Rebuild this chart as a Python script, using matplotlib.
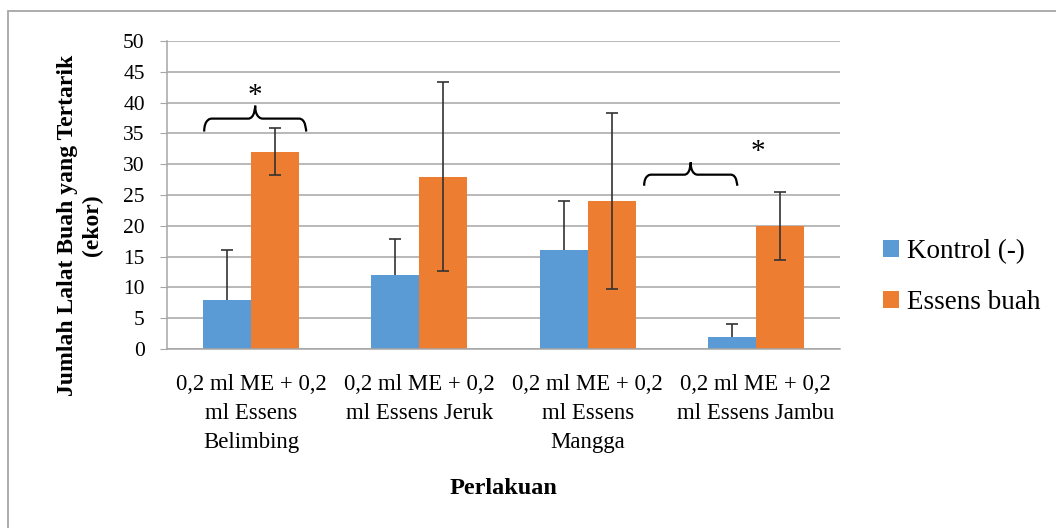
import matplotlib.pyplot as plt
import numpy as np
from matplotlib.path import Path
from matplotlib.patches import PathPatch, Rectangle

plt.rcParams['font.family'] = ['Liberation Serif', 'DejaVu Serif']

# data
categories = ['0,2 ml ME + 0,2\nml Essens\nBelimbing',
              '0,2 ml ME + 0,2\nml Essens Jeruk',
              '0,2 ml ME + 0,2\nml Essens\nMangga',
              '0,2 ml ME + 0,2\nml Essens Jambu']
kontrol = [8, 12, 16, 2]
kontrol_err = [8, 5.8, 8.1, 2]
essens = [32, 28, 24, 20]
essens_err = [3.8, 15.3, 14.3, 5.5]

blue = '#5B9BD5'
orange = '#ED7D31'
grid_c = '#A6A6A6'
err_c = '#333333'

W, H = 1056, 528
x = np.arange(len(categories))
width = 0.286

fig = plt.figure(figsize=(W / 100, H / 100), dpi=100)
ax = fig.add_axes([167 / W, 1 - 349 / H, (840 - 167) / W, (349 - 41) / H])

ax.bar(x - width/2, kontrol, width, color=blue, label='Kontrol (-)', zorder=2)
ax.bar(x + width/2, essens, width, color=orange, label='Essens buah', zorder=2)
eb = ax.errorbar(x - width/2, kontrol, yerr=[np.zeros(len(kontrol)), kontrol_err],
                 fmt='none', ecolor=err_c, elinewidth=1.2, capsize=4.3, capthick=1.2, zorder=3)
eb[1][0].set_visible(False)  # plus-only error bars for the control
ax.errorbar(x + width/2, essens, yerr=essens_err,
            fmt='none', ecolor=err_c, elinewidth=1.2, capsize=4.3, capthick=1.2, zorder=3)

ax.set_xlim(-0.5, 3.5)
ax.set_ylim(0, 50)
ax.set_yticks(range(0, 51, 5))
ax.yaxis.grid(True, color=grid_c, linewidth=1.1, zorder=0)
ax.set_axisbelow(True)
for s in ['top', 'right']:
    ax.spines[s].set_visible(False)
for s in ['left', 'bottom']:
    ax.spines[s].set_color(grid_c)
    ax.spines[s].set_linewidth(1.1)
ax.tick_params(axis='y', length=5, color=grid_c, labelsize=15.5, pad=11)
ax.tick_params(axis='x', length=0, labelsize=16.4, pad=18)
ax.set_xticks(x)
ax.set_xticklabels(categories, linespacing=1.5)

fig.text(80 / W, 1 - 225 / H, 'Jumlah Lalat Buah yang Tertarik\n(ekor)', fontsize=17,
         fontweight='bold', linespacing=1.2, rotation=90, ha='center', va='center')
fig.text(503 / W, 1 - 488 / H, 'Perlakuan', fontsize=17.5, fontweight='bold',
         ha='center', va='center')


def brace(x0, x1, yb, ym, yt):
    xm = (x0 + x1) / 2
    r = (x1 - x0) * 0.07
    verts = [(x0, yb), (x0, ym), (x0 + r, ym), (x0 + r, ym),
             (xm - r, ym),
             (xm, ym), (xm, yt), (xm, yt),
             (xm, ym), (xm + r, ym), (xm + r, ym),
             (x1 - r, ym),
             (x1, ym), (x1, yb), (x1, yb)]
    codes = [Path.MOVETO, Path.CURVE4, Path.CURVE4, Path.CURVE4,
             Path.LINETO,
             Path.CURVE4, Path.CURVE4, Path.CURVE4,
             Path.CURVE4, Path.CURVE4, Path.CURVE4,
             Path.LINETO,
             Path.CURVE4, Path.CURVE4, Path.CURVE4]
    ax.add_patch(PathPatch(Path(verts, codes), fill=False, lw=1.6,
                           edgecolor='black', zorder=4, clip_on=False))


brace(-0.279, 0.327, 35.3, 37.4, 39.5)
ax.text(0.024, 41.0, '*', fontsize=21, ha='center', va='center', clip_on=False)
brace(2.336, 2.889, 26.5, 28.3, 30.3)
ax.text(3.013, 32.0, '*', fontsize=21, ha='center', va='center')

ax.legend(loc='upper left', bbox_to_anchor=(883 / W, 1 - 239 / H),
          bbox_transform=fig.transFigure, frameon=False, fontsize=19.5,
          borderpad=0, borderaxespad=0,
          handlelength=0.6, handleheight=0.6, handletextpad=0.3,
          labelspacing=0.95)

# outer chart border (only top and left edges fall inside the picture)
fig.patches.append(Rectangle((8 / W, -0.1), 1.2, 1.1 - 11.5 / H, transform=fig.transFigure,
                             fill=False, edgecolor='#A6A6A6', linewidth=1.3))

fig.savefig('out.png', dpi=100)
